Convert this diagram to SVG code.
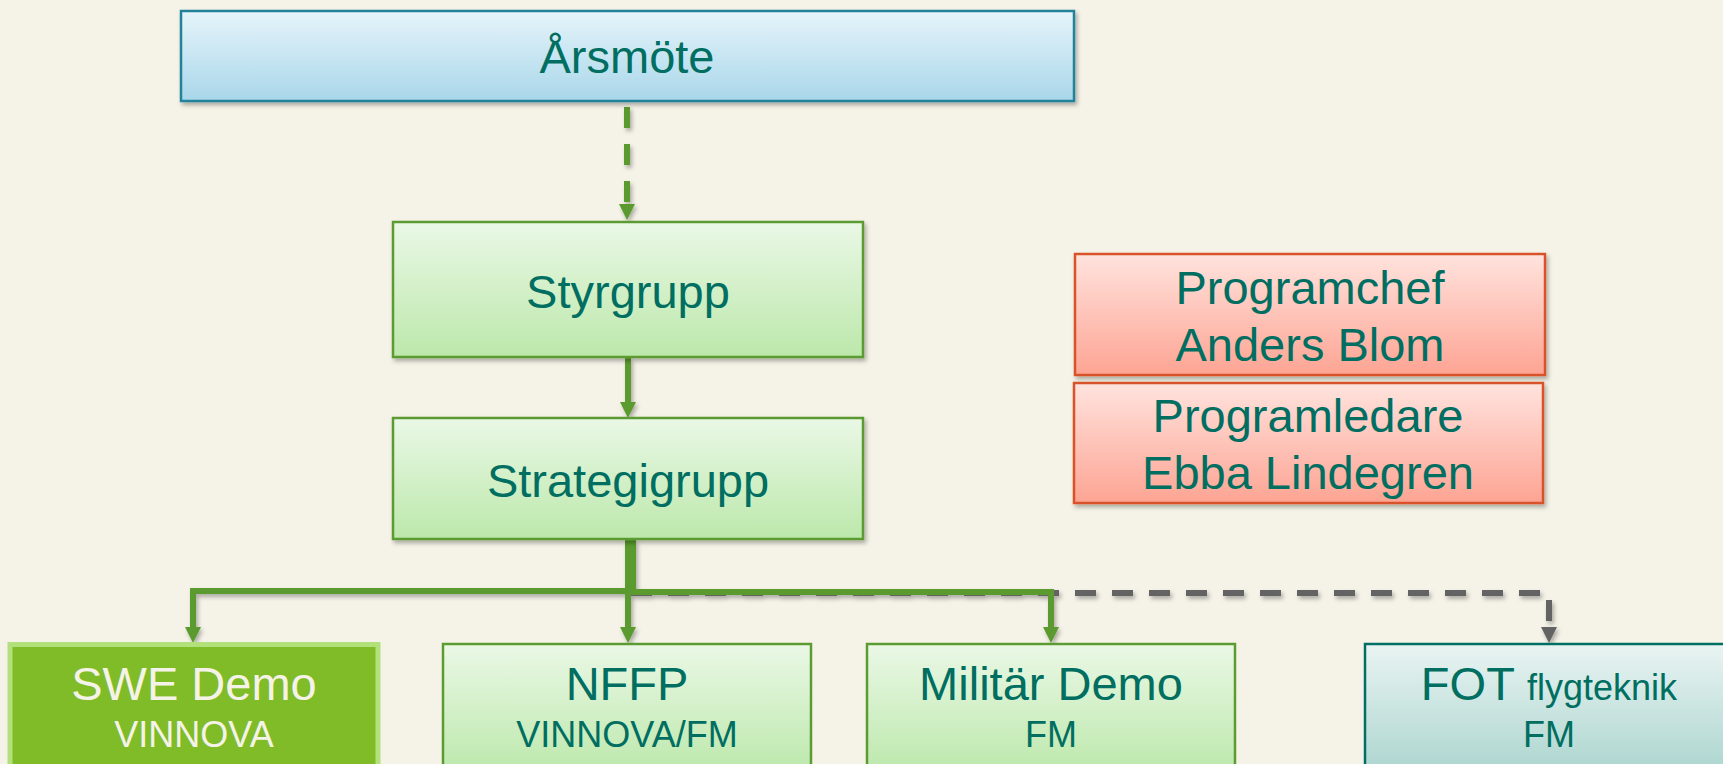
<svg xmlns="http://www.w3.org/2000/svg" width="1723" height="764" viewBox="0 0 1723 764">
<defs>
<linearGradient id="gGreen" x1="0" y1="0" x2="0" y2="1"><stop offset="0" stop-color="#eaf8e6"/><stop offset="1" stop-color="#bce8ab"/></linearGradient>
<linearGradient id="gBlue" x1="0" y1="0" x2="0" y2="1"><stop offset="0" stop-color="#e6f4fa"/><stop offset="1" stop-color="#a9d7ea"/></linearGradient>
<linearGradient id="gRed" x1="0" y1="0" x2="0" y2="1"><stop offset="0" stop-color="#ffe3de"/><stop offset="1" stop-color="#fda493"/></linearGradient>
<linearGradient id="gTeal" x1="0" y1="0" x2="0" y2="1"><stop offset="0" stop-color="#e9f4f2"/><stop offset="1" stop-color="#acd5cf"/></linearGradient>
<filter id="sh" x="-10%" y="-10%" width="120%" height="130%"><feDropShadow dx="2" dy="3" stdDeviation="2" flood-color="#000" flood-opacity="0.3"/></filter>
<marker id="aG" viewBox="0 0 16 16" markerWidth="16" markerHeight="16" refX="8" refY="8" orient="auto" markerUnits="userSpaceOnUse"><path d="M0,0 L16,8 L0,16 z" fill="#5a9a2f"/></marker>
<marker id="aY" viewBox="0 0 16 16" markerWidth="16" markerHeight="16" refX="8" refY="8" orient="auto" markerUnits="userSpaceOnUse"><path d="M0,0 L16,8 L0,16 z" fill="#646464"/></marker>
<style>
text{font-family:"Liberation Sans",Arial,sans-serif;fill:#006e60;text-anchor:middle}
.big{font-size:47px}
.small{font-size:36px}
.gbox{fill:url(#gGreen);stroke:#5b9b31;stroke-width:2.5}
.conn{fill:none;stroke:#5a9a2f;stroke-width:6}
.dash{stroke-dasharray:21 16}
.gray{fill:none;stroke:#646464;stroke-width:6;stroke-dasharray:21 16}
</style>
</defs>
<rect width="1723" height="764" fill="#f5f3e8"/>
<g id="connectors" filter="url(#sh)">
<path class="gray" d="M631,593 L1549,593 L1549,635" marker-end="url(#aY)"/>
<path class="conn dash" d="M627,107 L627,212" marker-end="url(#aG)"/>
<path class="conn" d="M628,358 L628,410" marker-end="url(#aG)"/>
<path class="conn" d="M633,540 L633,591 L193,591 L193,635" marker-end="url(#aG)"/>
<path class="conn" d="M628,540 L628,635" marker-end="url(#aG)"/>
<path class="conn" d="M628,592 L1051,592 L1051,635" marker-end="url(#aG)"/>
</g>
<g id="arsmote">
<rect x="181" y="11" width="893" height="90" fill="url(#gBlue)" stroke="#22829a" stroke-width="2.5" filter="url(#sh)"/>
<text class="big" x="627" y="73">Årsmöte</text>
</g>
<g id="styrgrupp">
<rect class="gbox" x="393" y="222" width="470" height="135" filter="url(#sh)"/>
<text class="big" x="628" y="308">Styrgrupp</text>
</g>
<g id="strategigrupp">
<rect class="gbox" x="393" y="418" width="470" height="121" filter="url(#sh)"/>
<text class="big" x="628" y="497">Strategigrupp</text>
</g>
<g id="programchef">
<rect x="1075" y="254" width="470" height="121" fill="url(#gRed)" stroke="#d8532b" stroke-width="2.5" filter="url(#sh)"/>
<text class="big" x="1310" y="304">Programchef</text>
<text class="big" x="1310" y="361">Anders Blom</text>
</g>
<g id="programledare">
<rect x="1074" y="383" width="469" height="120" fill="url(#gRed)" stroke="#d8532b" stroke-width="2.5" filter="url(#sh)"/>
<text class="big" x="1308" y="432">Programledare</text>
<text class="big" x="1308" y="489">Ebba Lindegren</text>
</g>
<g id="swedemo">
<rect x="10" y="644.5" width="368" height="130" fill="#80bc28" stroke="#b2e07a" stroke-width="5"/>
<text class="big" x="194" y="700" style="fill:#f5f3e8">SWE Demo</text>
<text class="small" x="194" y="747" style="fill:#f5f3e8">VINNOVA</text>
</g>
<g id="nffp">
<rect class="gbox" x="443" y="644" width="368" height="130"/>
<text class="big" x="627" y="700">NFFP</text>
<text class="small" x="627" y="747">VINNOVA/FM</text>
</g>
<g id="militardemo">
<rect class="gbox" x="867" y="644" width="368" height="130"/>
<text class="big" x="1051" y="700">Militär Demo</text>
<text class="small" x="1051" y="747">FM</text>
</g>
<g id="fot">
<rect x="1365" y="644" width="370" height="130" fill="url(#gTeal)" stroke="#006f63" stroke-width="2.5"/>
<text class="big" x="1549" y="700">FOT <tspan class="small">flygteknik</tspan></text>
<text class="small" x="1549" y="747">FM</text>
</g>
</svg>
